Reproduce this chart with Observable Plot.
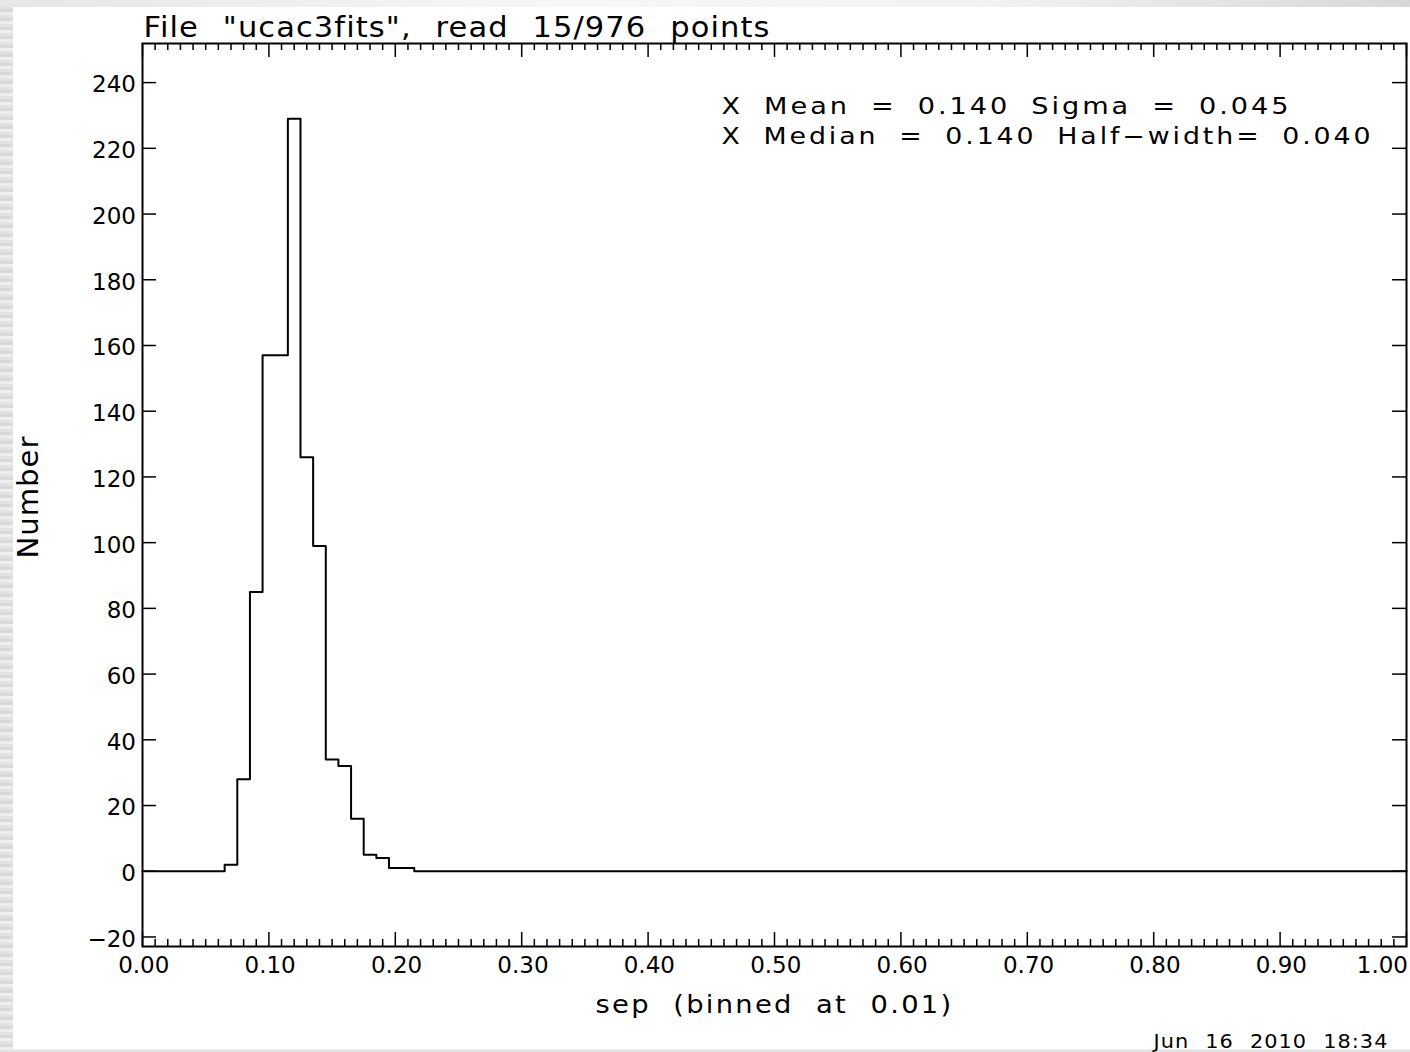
<!DOCTYPE html>
<html>
<head>
<meta charset="utf-8">
<script src="https://cdn.jsdelivr.net/npm/d3@7"></script>
<script src="https://cdn.jsdelivr.net/npm/@observablehq/plot@0.6"></script>
<style>
html, body { margin: 0; padding: 0; }
body {
  width: 1410px; height: 1052px; overflow: hidden; position: relative;
  background: repeating-linear-gradient(180deg, #d9d9d9 0px, #d9d9d9 3px, #eeeeee 3px, #eeeeee 6px, #e2e2e2 6px, #e2e2e2 9px);
}
#topband { position: absolute; left: 0; top: 0; width: 1410px; height: 7px;
  background: linear-gradient(90deg, #e6e6e6, #f7f7f7 40%, #f2f2f2 70%, #d8d8d8); }
#chart { position: absolute; left: 13px; top: 7px; width: 1397px; height: 1042px; background: #fff; }
#chart svg { display: block; }
</style>
</head>
<body>
<div id="topband"></div>
<div id="chart"></div>
<script>
// ---- data ----
const binCenters = [0.00, 0.06, 0.07, 0.08, 0.09, 0.10, 0.11, 0.12, 0.13, 0.14, 0.15, 0.16, 0.17, 0.18, 0.19, 0.20, 0.21, 0.22, 1.00];
const counts     = [0,    0,    2,    28,   85,   157,  157,  229,  126,  99,   34,   32,   16,   5,    4,    1,    1,    0,    0];

const xMajor = [0.0, 0.1, 0.2, 0.3, 0.4, 0.5, 0.6, 0.7, 0.8, 0.9, 1.0];
const xTickLabels = ["0.00", "0.10", "0.20", "0.30", "0.40", "0.50", "0.60", "0.70", "0.80", "0.90", "1.00"];
const yMajor = [-20, 0, 20, 40, 60, 80, 100, 120, 140, 160, 180, 200, 220, 240];
const yTickLabels = ["\u221220", "0", "20", "40", "60", "80", "100", "120", "140", "160", "180", "200", "220", "240"];
const xMinor = d3.range(0, 101).map(i => i / 100);

const titleText = 'File "ucac3fits", read 15/976 points';
const statsLine1 = "X Mean = 0.140 Sigma = 0.045";
const statsLine2 = "X Median = 0.140 Half\u2212width= 0.040";
const xLabel = "sep (binned at 0.01)";
const yLabel = "Number";
const dateText = "Jun 16 2010 18:34";

// ---- layout ----
const W = 1397, H = 1042;
const mL = 129, mR = 4, mT = 36, mB = 103;
const frameW = W - mL - mR, frameH = H - mT - mB;
const font = "'DejaVu Sans', sans-serif";

const hist = binCenters.map((c, i) => ({sep: c, n: counts[i]}));
const xMinorOnly = xMinor.filter(v => Math.abs(v * 10 - Math.round(v * 10)) > 1e-6);

const svg = Plot.plot({
  width: W, height: H,
  marginLeft: mL, marginRight: mR, marginTop: mT, marginBottom: mB,
  x: {domain: [0, 1], axis: null},
  y: {domain: [-22.9, 251.9], axis: null},
  style: {fontFamily: font, background: "white", color: "#000", overflow: "visible"},
  marks: [
    // histogram
    Plot.line(hist, {x: "sep", y: "n", curve: "step", stroke: "#000", strokeWidth: 2}),
    // minor x ticks (bottom and top, pointing inward)
    Plot.tickX(xMinorOnly, {x: d => d, insetTop: frameH - 7, stroke: "#000", strokeWidth: 1.5}),
    Plot.tickX(xMinorOnly, {x: d => d, insetBottom: frameH - 7, stroke: "#000", strokeWidth: 1.5}),
    // major x ticks
    Plot.tickX(xMajor, {x: d => d, insetTop: frameH - 14, stroke: "#000", strokeWidth: 1.5}),
    Plot.tickX(xMajor, {x: d => d, insetBottom: frameH - 14, stroke: "#000", strokeWidth: 1.5}),
    // y ticks (left and right, pointing inward)
    Plot.tickY(yMajor, {y: d => d, insetRight: frameW - 14, stroke: "#000", strokeWidth: 1.5}),
    Plot.tickY(yMajor, {y: d => d, insetLeft: frameW - 14, stroke: "#000", strokeWidth: 1.5}),
    Plot.frame({stroke: "#000", strokeWidth: 2}),
    // tick labels
    Plot.text(xMajor.slice(0, -1), {x: d => d, text: (d, i) => xTickLabels[i], frameAnchor: "bottom",
      lineAnchor: "bottom", dy: 26, dx: 1.25, fontSize: 23, fill: "#000", ariaLabel: "tick-labels"}),
    Plot.text(xMajor.slice(-1), {x: d => d, text: () => xTickLabels[xTickLabels.length - 1], frameAnchor: "bottom",
      lineAnchor: "bottom", textAnchor: "end", dy: 26, dx: 1.5, fontSize: 23, fill: "#000", ariaLabel: "tick-labels"}),
    Plot.text(yMajor, {y: d => d, text: (d, i) => yTickLabels[i], frameAnchor: "left", textAnchor: "end",
      lineAnchor: "middle", dx: -6.5, dy: 2.5, fontSize: 23, fill: "#000", ariaLabel: "tick-labels"}),
    // title
    Plot.text([titleText], {text: d => d, frameAnchor: "top-left", textAnchor: "start", lineAnchor: "bottom",
      dx: 1, dy: -7, fontSize: 28, fill: "#000"}),
    // statistics
    Plot.text([statsLine1], {text: d => d, frameAnchor: "top-left", textAnchor: "start", lineAnchor: "bottom",
      dx: 579, dy: 70, fontSize: 23, fill: "#000"}),
    Plot.text([statsLine2], {text: d => d, frameAnchor: "top-left", textAnchor: "start", lineAnchor: "bottom",
      dx: 579, dy: 100, fontSize: 23, fill: "#000"}),
    // axis titles
    Plot.text([xLabel], {text: d => d, frameAnchor: "bottom", textAnchor: "middle", lineAnchor: "bottom",
      dy: 66, fontSize: 24, fill: "#000"}),
    Plot.text([yLabel], {text: d => d, frameAnchor: "left", textAnchor: "middle", lineAnchor: "middle",
      rotate: -90, dx: -114, dy: 2, fontSize: 29, fill: "#000"}),
    // date stamp
    Plot.text([dateText], {text: d => d, frameAnchor: "bottom-right", textAnchor: "end", lineAnchor: "bottom",
      dx: -18, dy: 101, fontSize: 20, fill: "#000"})
  ]
});

d3.select(svg).selectAll('g[aria-label="tick-labels"] text').style("letter-spacing", "2.5px");
// target widths and spacing to imitate the wide vector font
const fits = new Map([
  [titleText,  {len: 627, ws: 12, ls: 1}],
  [statsLine1, {len: 570, ws: 8, ls: 2.5}],
  [statsLine2, {len: 652, ws: 8, ls: 2.5}],
  [xLabel,     {len: 358, ws: 10, ls: 2}],
  [yLabel,     {len: 123, ws: 0,  ls: 1}],
  [dateText,   {len: 235, ws: 8,  ls: 1}]
]);
d3.select(svg).selectAll("text").each(function () {
  const f = fits.get(this.textContent);
  if (f) {
    this.style.wordSpacing = f.ws + "px";
    this.style.letterSpacing = f.ls + "px";
    this.setAttribute("textLength", f.len);
    this.setAttribute("lengthAdjust", "spacingAndGlyphs");
  }
});

document.getElementById("chart").appendChild(svg);
</script>
</body>
</html>
